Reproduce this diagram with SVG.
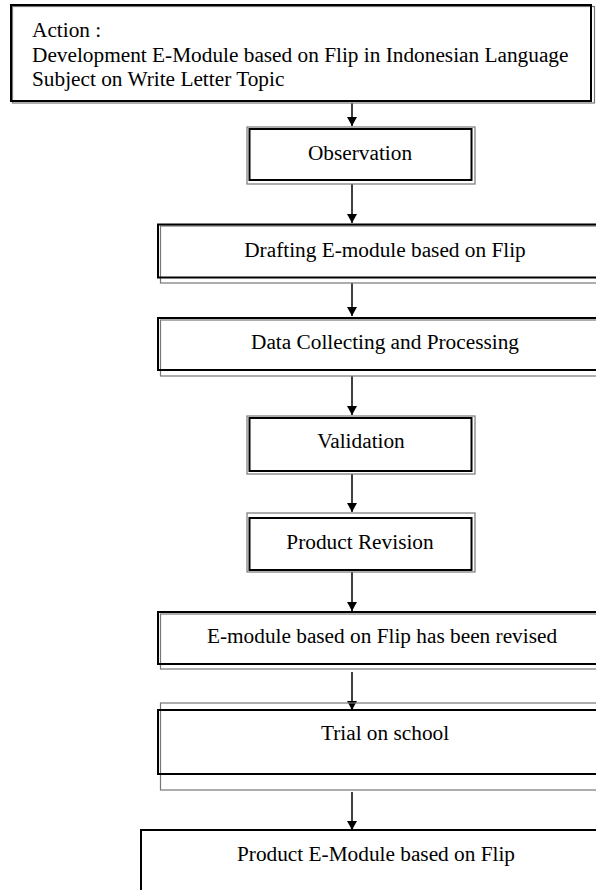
<svg xmlns="http://www.w3.org/2000/svg" width="596" height="890" viewBox="0 0 596 890">
<style>
.k{fill:none;stroke:#000;stroke-width:2}
.g{fill:none;stroke:#777;stroke-width:1.2}
.t{font-family:"Liberation Serif","Times New Roman",serif;font-size:21.3px;fill:#000}
.c{text-anchor:middle}
.e{stroke:#000;stroke-width:1.5;fill:none;marker-end:url(#ah)}
</style>
<defs>
<marker id="ah" markerWidth="10" markerHeight="10" refX="9" refY="5" orient="auto" markerUnits="userSpaceOnUse">
<path d="M0,0 L9,5 L0,10 Z" fill="#000"/>
</marker>
</defs>
<rect width="596" height="890" fill="#fff"/>
<g id="connectors">
<line class="e" x1="352" y1="103" x2="352" y2="126"/>
<line class="e" x1="352" y1="184" x2="352" y2="223"/>
<line class="e" x1="352" y1="283" x2="352" y2="316"/>
<line class="e" x1="352" y1="376" x2="352" y2="415"/>
<line class="e" x1="352" y1="474" x2="352" y2="512"/>
<line class="e" x1="352" y1="572" x2="352" y2="611"/>
<line class="e" x1="352" y1="672" x2="352" y2="710"/>
<line class="e" x1="352" y1="792" x2="352" y2="830"/>
</g>
<g id="action">
<rect class="g" x="12.5" y="6.5" width="582" height="96.5"/>
<rect class="k" x="11" y="5" width="580" height="96"/>
<text class="t" x="32" y="37">Action :</text>
<text class="t" x="32" y="62">Development E-Module based on Flip in Indonesian Language</text>
<text class="t" x="32" y="86">Subject on Write Letter Topic</text>
</g>
<g id="observation">
<rect class="g" x="247" y="127" width="228" height="57"/>
<rect class="k" x="249.5" y="129" width="222" height="51"/>
<text class="t c" x="360" y="160">Observation</text>
</g>
<g id="drafting">
<rect class="g" x="160.5" y="226" width="460" height="57"/>
<rect class="k" x="158" y="224.5" width="460" height="53"/>
<text class="t c" x="385" y="257">Drafting E-module based on Flip</text>
</g>
<g id="data">
<rect class="g" x="160.5" y="320" width="460" height="56"/>
<rect class="k" x="158" y="318" width="460" height="52"/>
<text class="t c" x="385" y="349">Data Collecting and Processing</text>
</g>
<g id="validation">
<rect class="g" x="247" y="416" width="228" height="58"/>
<rect class="k" x="249.5" y="418" width="222" height="53"/>
<text class="t c" x="361" y="448">Validation</text>
</g>
<g id="revision">
<rect class="g" x="247" y="513" width="228" height="59"/>
<rect class="k" x="249.5" y="518" width="222" height="52"/>
<text class="t c" x="360" y="549">Product Revision</text>
</g>
<g id="revised">
<rect class="g" x="160.5" y="614" width="460" height="55"/>
<rect class="k" x="158" y="612" width="460" height="52"/>
<text class="t c" x="382" y="643">E-module based on Flip has been revised</text>
</g>
<g id="trial">
<rect class="g" x="160.5" y="703" width="460" height="87"/>
<rect class="k" x="158" y="710" width="460" height="64"/>
<text class="t c" x="385" y="740">Trial on school</text>
</g>
<g id="product">
<rect class="k" x="141" y="830" width="480" height="80"/>
<text class="t c" x="376" y="861">Product E-Module based on Flip</text>
</g>
</svg>
